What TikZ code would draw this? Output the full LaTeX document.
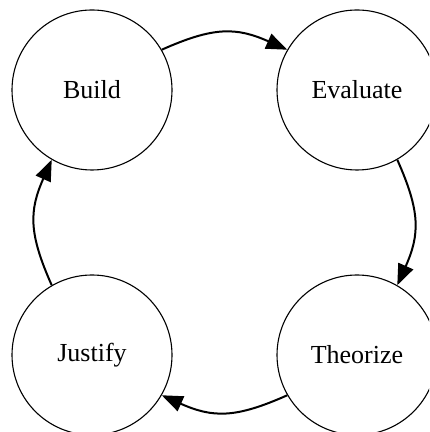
\documentclass[tikz,border=0pt]{standalone}
\usepackage{fontspec}
\setmainfont{Liberation Serif}
\usetikzlibrary{arrows.meta}
\begin{document}
\begin{tikzpicture}[x=0.5pt, y=0.5pt, font=\fontsize{13}{15}\selectfont,
  phase/.style={draw, circle, line width=0.55pt, minimum size=80pt, inner sep=0pt},
  flow/.style={-{Triangle[length=10.5pt,width=8pt]}, line width=1pt, bend left=24, looseness=1.15}]

\path[use as bounding box, clip] (0,0) rectangle (429,432);

\node[phase] (build)    at (92,342)  {Build};
\node[phase] (evaluate) at (357,342) {Evaluate};
\node[phase] (theorize) at (357,77)  {Theorize};
\node[phase] (justify)  at (92,77)   {Justify};

% arcs leave and enter at fixed border points
\foreach \a/\oa/\b/\ib in {build/30/evaluate/150, evaluate/-60/theorize/60,
                          theorize/-150/justify/-30, justify/120/build/-120}
\draw[flow] (\a.\oa) to (\b.\ib);
\end{tikzpicture}
\end{document}
